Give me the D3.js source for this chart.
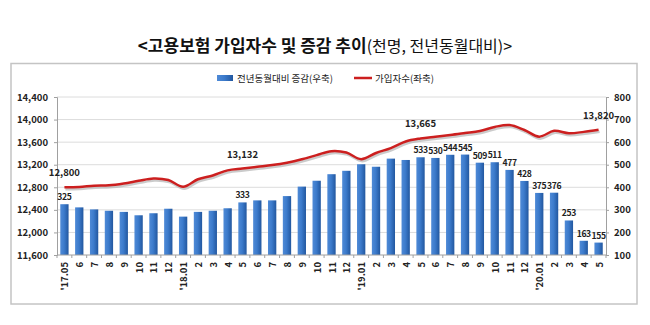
<!DOCTYPE html>
<html><head><meta charset="utf-8">
<script src="https://cdn.jsdelivr.net/npm/d3@7"></script>
<style>
html,body{margin:0;padding:0;background:#fff;}
svg{display:block;}
text{font-family:"Noto Sans CJK KR","Noto Sans",sans-serif;}
</style></head>
<body><svg id="c" width="650" height="325"></svg>
<script>
const months = ["'17.05","6","7","8","9","10","11","12","'18.01","2","3","4","5","6","7","8","9","10","11","12","'19.01","2","3","4","5","6","7","8","9","10","11","12","'20.01","2","3","4","5"];
const changeValues = [325,311,302,296,291,276,285,305,270,291,296,307,333,342,342,361,403,429,458,473,502,491,527,521,533,530,544,545,509,511,477,428,375,376,253,163,155];
const subscribers = [12800,12805,12829,12836,12868,12915,12957,12930,12810,12943,13010,13100,13132,13163,13193,13236,13296,13370,13440,13415,13298,13408,13495,13612,13665,13697,13727,13762,13798,13870,13904,13815,13697,13800,13757,13782,13820];
const leftTicks = [11600,12000,12400,12800,13200,13600,14000,14400];
const rightTicks = [100,200,300,400,500,600,700,800];
const barLabelIdx = [0,12,24,25,26,27,28,29,30,31,32,33,34,35,36];
const lineLabelIdx = [0,12,24,36];
const titleBold = "<고용보험 가입자수 및 증감 추이";
const titleNormal = "(천명, 전년동월대비)>";
const legendBar = "전년동월대비 증감(우축)";
const legendLine = "가입자수(좌축)";

const svg = d3.select("#c");
const L = 57, R = 606, T = 97, B = 255;

const defs = svg.append("defs");
const g1 = defs.append("linearGradient").attr("id","bg").attr("x1","0").attr("x2","1").attr("y1","0").attr("y2","0");
g1.append("stop").attr("offset","0").attr("stop-color","#4f8ad6");
g1.append("stop").attr("offset","0.45").attr("stop-color","#3c7bcc");
g1.append("stop").attr("offset","1").attr("stop-color","#22579f");

// title
const tt = svg.append("text").attr("x",325).attr("y",52).attr("text-anchor","middle")
  .attr("font-size",17).attr("fill","#111");
tt.append("tspan").attr("font-weight","bold").text(titleBold);
tt.append("tspan").attr("font-weight","normal").attr("font-size",16).text(titleNormal);

// frame
svg.append("rect").attr("x",11).attr("y",63.5).attr("width",626).attr("height",240.5)
  .attr("fill","none").attr("stroke","#c4c4c4").attr("stroke-width",1.5);

const x = d3.scaleBand().domain(d3.range(months.length)).range([L,R]).paddingInner(0.44).paddingOuter(0.22);
const yL = d3.scaleLinear().domain([11600,14400]).range([B,T]);
const yR = d3.scaleLinear().domain([100,800]).range([B,T]);

// gridlines
svg.append("g").selectAll("line").data(leftTicks.slice(1)).join("line")
  .attr("x1",L).attr("x2",R).attr("y1",d=>yL(d)).attr("y2",d=>yL(d))
  .attr("stroke","#dcdcdc").attr("stroke-width",1);

// bars
svg.append("g").selectAll("rect").data(changeValues).join("rect")
  .attr("x",(d,i)=>x(i)).attr("width",x.bandwidth())
  .attr("y",d=>yR(d)).attr("height",d=>B-yR(d)).attr("fill","url(#bg)");

// axes
const axL = svg.append("g").attr("transform",`translate(${L},0)`)
  .call(d3.axisLeft(yL).tickValues(leftTicks).tickFormat(d3.format(",")).tickSize(3).tickPadding(6));
const axR = svg.append("g").attr("transform",`translate(${R},0)`)
  .call(d3.axisRight(yR).tickValues(rightTicks).tickSize(3).tickPadding(5));
[axL,axR].forEach(a=>{
  a.select(".domain").attr("stroke","#a0a0a0");
  a.selectAll(".tick line").attr("stroke","#a0a0a0");
  a.selectAll("text").attr("font-size",9.5).attr("fill","#222").attr("font-weight","bold")
   .attr("font-family","'Noto Sans CJK KR',sans-serif");
});

// x axis
svg.append("line").attr("x1",L).attr("x2",R).attr("y1",B).attr("y2",B).attr("stroke","#a0a0a0");
const step = x.step();
svg.append("g").selectAll("line").data(d3.range(months.length+1)).join("line")
  .attr("x1",i=>L+i*step).attr("x2",i=>L+i*step).attr("y1",B).attr("y2",B+3).attr("stroke","#a0a0a0");
svg.append("g").selectAll("text").data(months).join("text")
  .attr("transform",(d,i)=>`translate(${x(i)+x.bandwidth()/2},${B+7}) rotate(-90)`)
  .attr("text-anchor","end").attr("dominant-baseline","central")
  .attr("font-size",9.5).attr("font-weight","bold").attr("fill","#222").text(d=>d);

// line
const cx = i => x(i)+x.bandwidth()/2;
const line = d3.line().x((d,i)=>cx(i)).y(d=>yL(d)).curve(d3.curveCatmullRom.alpha(0.5));
svg.append("path").datum(subscribers).attr("d",line).attr("fill","none")
  .attr("stroke","#b5b5b5").attr("stroke-width",2.5).attr("opacity",0.7)
  .attr("transform","translate(1,2)");
svg.append("path").datum(subscribers).attr("d",line).attr("fill","none")
  .attr("stroke","#cc1f1f").attr("stroke-width",2.5);

// labels
svg.append("g").selectAll("text").data(barLabelIdx).join("text")
  .attr("x",i=>cx(i)).attr("y",i=>yR(changeValues[i])-4).attr("text-anchor","middle")
  .attr("font-size",8.6).attr("letter-spacing",-0.35).attr("fill","#222").attr("font-weight","bold").text(i=>changeValues[i]);
svg.append("g").selectAll("text").data(lineLabelIdx).join("text")
  .attr("x",i=>cx(i)).attr("y",i=>yL(subscribers[i])-11).attr("text-anchor","middle")
  .attr("font-size",9.5).attr("fill","#222").attr("font-weight","bold").text(i=>d3.format(",")(subscribers[i]));

// legend
const lg = svg.append("g");
lg.append("rect").attr("x",217).attr("y",75).attr("width",16).attr("height",6).attr("fill","url(#bg)");
lg.append("text").attr("x",237).attr("y",81.5).attr("font-size",9.5).attr("fill","#222").text(legendBar);
lg.append("line").attr("x1",354).attr("x2",372).attr("y1",78).attr("y2",78).attr("stroke","#cc1f1f").attr("stroke-width",2.5);
lg.append("text").attr("x",375).attr("y",81.5).attr("font-size",9.5).attr("fill","#222").text(legendLine);
</script></body></html>
